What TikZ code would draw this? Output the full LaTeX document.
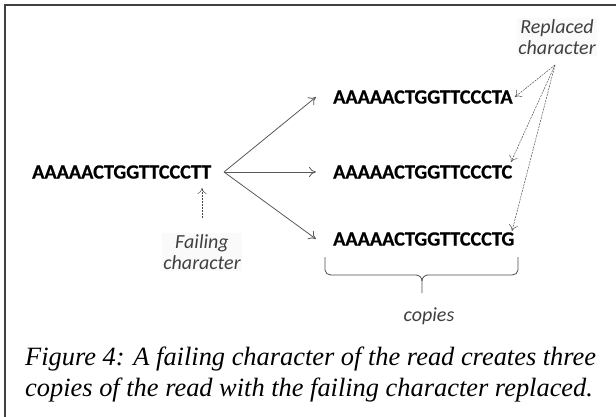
\documentclass[tikz,border=0pt]{standalone}
\usepackage{fontspec}
\setmainfont{Liberation Serif}
\newfontfamily\seqfont{Carlito}[BoldFeatures={FakeBold=0.6}]
\usetikzlibrary{arrows.meta}
\tikzset{
  seq/.style={font=\seqfont\bfseries\fontsize{20.2}{22}\selectfont, inner sep=2pt, anchor=west},
  note/.style={font=\seqfont\itshape\fontsize{20}{21}\selectfont, align=center, text=black!75, fill=black!2, inner sep=1pt},
  branch/.style={draw=black!65, line width=0.8pt, -{To[length=7pt,width=10pt]}},
  hint/.style={draw=black!70, line width=0.5pt, dash pattern=on 2pt off 1pt, -{To[length=6pt,width=9pt]}},
  caption/.style={font=\itshape\fontsize{26.4}{31}\selectfont, align=left, anchor=north west, inner sep=0pt}
}
\begin{document}
\begin{tikzpicture}[x=1pt,y=-1pt]
  \useasboundingbox (0,0) rectangle (616,417);
  % frame (continues past the right and bottom edges)
  \draw[black!75, line width=1.6pt] (5,417) -- (5,5) -- (616,5);

  % original read and its three copies
  \node[seq] (read) at (30,172) {AAAAACTGGTTCCCTT};
  \node[seq] (cA) at (331,97) {AAAAACTGGTTCCCTA};
  \node[seq] (cC) at (331,172) {AAAAACTGGTTCCCTC};
  \node[seq] (cG) at (331,239) {AAAAACTGGTTCCCTG};

  \coordinate (fork) at (224,172);
  \draw[branch] (fork) -- (316,97);
  \draw[branch] (fork) -- (316,172);
  \draw[branch] (fork) -- (316,239);

  % failing character label
  \node[note] (fail) at (202,252) {Failing\\character};
  \coordinate (failtail) at (202,218);
  \coordinate (failtip) at (202,188);
  \draw[hint] (failtail) -- (failtip);

  % replaced character label
  \node[note] (repl) at (557,37) {Replaced\\character};
  \coordinate (rsrc) at (555,65);
  \draw[hint] (rsrc) -- (cA.east);
  \draw[hint] (rsrc) -- (511,162);
  \draw[hint] (rsrc) -- (512,231);

  % brace grouping the copies
  \draw[black!70, line width=0.8pt] (325,257) -- (325,270) to[out=-90,in=180] (331,275) -- (416,275)
     to[out=0,in=90] (422,281) -- (422,293);
  \draw[black!70, line width=0.8pt] (518,257) -- (518,270) to[out=-90,in=0] (512,275) -- (428,275)
     to[out=180,in=90] (422,281);
  \node[note, fill=none] (copies) at (429,316) {copies};

  % caption
  \node[caption] (cap) at (25,347) {Figure 4: A failing character of the read creates three\\copies of the read with the failing character replaced.};
\end{tikzpicture}
\end{document}
